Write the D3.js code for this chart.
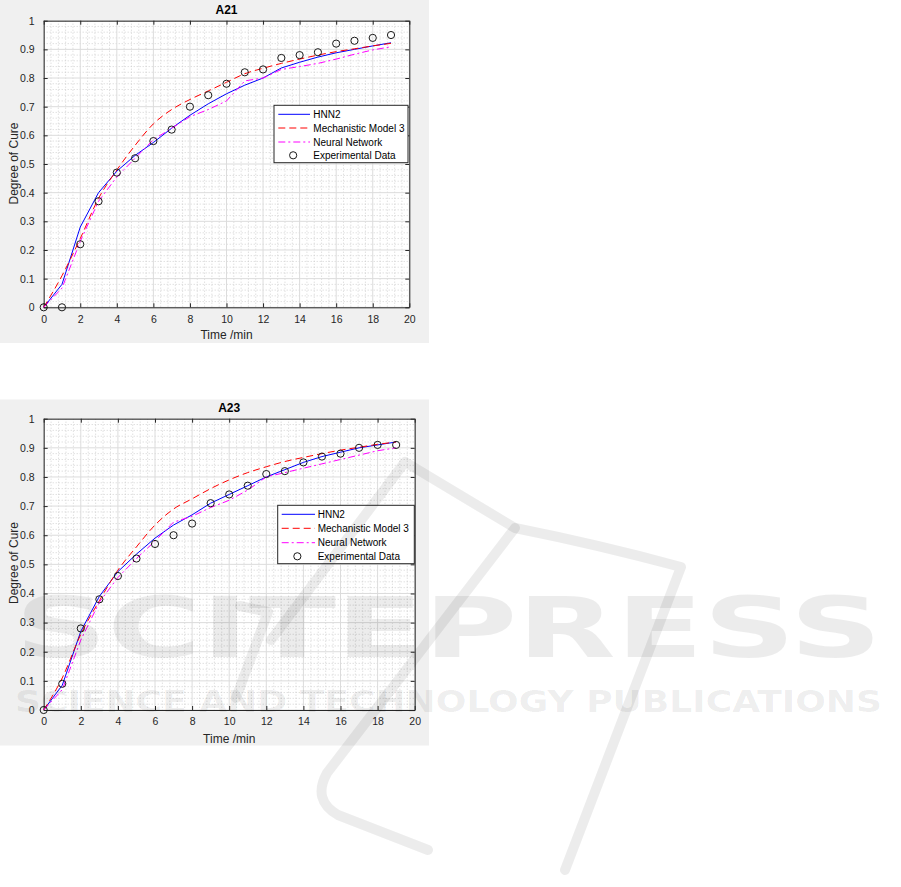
<!DOCTYPE html>
<html>
<head>
<meta charset="utf-8">
<script src="https://cdn.jsdelivr.net/npm/d3@7"></script>
<style>
  html, body { margin: 0; padding: 0; background: #ffffff; }
  svg { display: block; }
</style>
</head>
<body>
<svg id="chart" width="901" height="887"></svg>
<script>
// ---------------- DATA ----------------
const time = [0,1,2,3,4,5,6,7,8,9,10,11,12,13,14,15,16,17,18,19];

// A21
const exp21  = [0,0,0.22,0.37,0.47,0.52,0.58,0.62,0.70,0.74,0.78,0.82,0.83,0.87,0.88,0.89,0.92,0.93,0.94,0.95];
const hnn21  = [0,0.08,0.28,0.40,0.475,0.53,0.575,0.625,0.67,0.71,0.745,0.775,0.80,0.835,0.855,0.873,0.888,0.90,0.912,0.923];
const mech21 = [0,0.11,0.24,0.38,0.479,0.565,0.64,0.69,0.725,0.755,0.785,0.815,0.834,0.851,0.866,0.880,0.892,0.902,0.912,0.921];
const nn21   = [0,0.067,0.23,0.37,0.455,0.52,0.585,0.625,0.665,0.69,0.72,0.79,0.80,0.83,0.84,0.851,0.866,0.883,0.898,0.909];

// A23
const exp23  = [0,0.09,0.28,0.38,0.46,0.52,0.57,0.60,0.64,0.71,0.74,0.77,0.81,0.82,0.85,0.87,0.88,0.90,0.91,0.91];
const hnn23  = [0,0.085,0.27,0.39,0.475,0.535,0.59,0.635,0.67,0.71,0.74,0.77,0.80,0.825,0.85,0.87,0.885,0.90,0.91,0.92];
const mech23 = [0,0.11,0.26,0.375,0.48,0.56,0.635,0.69,0.725,0.76,0.79,0.815,0.835,0.853,0.867,0.88,0.892,0.902,0.912,0.92];
const nn23   = [0,0.07,0.24,0.37,0.455,0.52,0.58,0.645,0.665,0.695,0.72,0.755,0.80,0.815,0.83,0.845,0.86,0.875,0.89,0.90];

const xTicks = [0,2,4,6,8,10,12,14,16,18,20];
const yTicks = [0,0.1,0.2,0.3,0.4,0.5,0.6,0.7,0.8,0.9,1];
const yTickLabels = ["0","0.1","0.2","0.3","0.4","0.5","0.6","0.7","0.8","0.9","1"];
const seriesNames = ["HNN2","Mechanistic Model 3","Neural Network","Experimental Data"];
const titles = ["A21","A23"];
const xLabel = "Time /min";
const yLabel = "Degree of Cure";
const watermarkTitle = "SCITEPRESS";
const watermarkSub = "SCIENCE AND TECHNOLOGY PUBLICATIONS";

// ---------------- LAYOUT ----------------
const panels = [
  { title: titles[0], exp: exp21, hnn: hnn21, mech: mech21, nn: nn21,
    bg: {x:0, y:0, w:429, h:343},
    plot: {l:43.7, r:409.3, t:20.7, b:307.3},
    titleY: 10, xTickY: 320, xLabelY: 335, yLabelX: 13.5, yLabelY: 163.5,
    legend: {x:274, y:105.3, w:134, h:57.4, rowY:[114.3,128,142,155.3], lineX0:278.3, lineX1:310, textX:313.3} },
  { title: titles[1], exp: exp23, hnn: hnn23, mech: mech23, nn: nn23,
    bg: {x:0, y:399.5, w:429, h:346},
    plot: {l:43.7, r:414.7, t:418.7, b:710},
    titleY: 407.5, xTickY: 722.5, xLabelY: 739, yLabelX: 13.5, yLabelY: 563,
    legend: {x:277.7, y:505.3, w:136.6, h:58.4, rowY:[514.3,528.3,542.7,556.3], lineX0:281.7, lineX1:315, textX:317.7} }
];

const svg = d3.select("#chart");
const FONT = "'Liberation Sans', Arial, Helvetica, sans-serif";
const TXT = "#262626";

panels.forEach((p, pi) => {
  const g = svg.append("g");
  g.append("rect").attr("x", p.bg.x).attr("y", p.bg.y).attr("width", p.bg.w).attr("height", p.bg.h)
    .attr("fill", "#f0f0f0");

  const x = d3.scaleLinear().domain([0, 20]).range([p.plot.l, p.plot.r]);
  const y = d3.scaleLinear().domain([0, 1]).range([p.plot.b, p.plot.t]);

  g.append("rect").attr("x", p.plot.l).attr("y", p.plot.t)
    .attr("width", p.plot.r - p.plot.l).attr("height", p.plot.b - p.plot.t).attr("fill", "#ffffff");

  // minor grid
  const minorX = d3.range(0, 20.0001, 0.4).filter(v => Math.abs(v/2 - Math.round(v/2)) > 1e-6);
  const minorY = d3.range(0, 1.0001, 0.02).filter(v => Math.abs(v*10 - Math.round(v*10)) > 1e-6);
  const mg = g.append("g").attr("stroke", "#c8c8c8").attr("stroke-width", 0.8).attr("stroke-dasharray", "1,2");
  minorX.forEach(v => mg.append("line").attr("x1", x(v)).attr("x2", x(v)).attr("y1", p.plot.t).attr("y2", p.plot.b));
  minorY.forEach(v => mg.append("line").attr("y1", y(v)).attr("y2", y(v)).attr("x1", p.plot.l).attr("x2", p.plot.r));

  // major grid
  const gg = g.append("g").attr("stroke", "#dcdcdc").attr("stroke-width", 1);
  xTicks.forEach(v => gg.append("line").attr("x1", x(v)).attr("x2", x(v)).attr("y1", p.plot.t).attr("y2", p.plot.b));
  yTicks.forEach(v => gg.append("line").attr("y1", y(v)).attr("y2", y(v)).attr("x1", p.plot.l).attr("x2", p.plot.r));

  // axes with inward ticks (box on)
  const axB = d3.axisBottom(x).tickValues(xTicks).tickSizeInner(-4).tickSizeOuter(0).tickFormat(d => d3.format("d")(d)).tickPadding(8);
  const axT = d3.axisTop(x).tickValues(xTicks).tickSizeInner(-4).tickSizeOuter(0).tickFormat("");
  const axL = d3.axisLeft(y).tickValues(yTicks).tickSizeInner(-4).tickSizeOuter(0).tickFormat((d,i) => yTickLabels[i]).tickPadding(9);
  const axR = d3.axisRight(y).tickValues(yTicks).tickSizeInner(-4).tickSizeOuter(0).tickFormat("");

  const styleAxis = sel => {
    sel.selectAll("path").attr("stroke", TXT).attr("stroke-width", 1);
    sel.selectAll("line").attr("stroke", TXT).attr("stroke-width", 1);
    sel.selectAll("text").attr("fill", TXT).style("font-family", FONT).style("font-size", "10.5px");
  };
  g.append("g").attr("transform", `translate(0,${p.plot.b})`).call(axB).call(styleAxis);
  g.append("g").attr("transform", `translate(0,${p.plot.t})`).call(axT).call(styleAxis);
  g.append("g").attr("transform", `translate(${p.plot.l},0)`).call(axL).call(styleAxis);
  g.append("g").attr("transform", `translate(${p.plot.r},0)`).call(axR).call(styleAxis);

  // series
  const pts = arr => time.map((t, i) => [t, arr[i]]);
  const line = d3.line().x(d => x(d[0])).y(d => y(d[1]));
  const lineSmooth = d3.line().x(d => x(d[0])).y(d => y(d[1])).curve(d3.curveMonotoneX);

  g.append("path").datum(pts(p.hnn)).attr("d", line).attr("fill", "none")
    .attr("stroke", "#0000ff").attr("stroke-width", 1);
  g.append("path").datum(pts(p.mech)).attr("d", lineSmooth).attr("fill", "none")
    .attr("stroke", "#ff0000").attr("stroke-width", 1).attr("stroke-dasharray", "7,4");
  g.append("path").datum(pts(p.nn)).attr("d", line).attr("fill", "none")
    .attr("stroke", "#ff00ff").attr("stroke-width", 1).attr("stroke-dasharray", "7,3,2,3");
  g.append("g").selectAll("circle").data(pts(p.exp)).join("circle")
    .attr("cx", d => x(d[0])).attr("cy", d => y(d[1])).attr("r", 3.6)
    .attr("fill", "none").attr("stroke", "#1a1a1a").attr("stroke-width", 1);

  // legend
  const L = p.legend;
  const lg = g.append("g");
  lg.append("rect").attr("x", L.x).attr("y", L.y).attr("width", L.w).attr("height", L.h)
    .attr("fill", "#ffffff").attr("stroke", TXT).attr("stroke-width", 1);
  const styles = [
    {stroke:"#0000ff", dash:null},
    {stroke:"#ff0000", dash:"7,4"},
    {stroke:"#ff00ff", dash:"7,3,2,3"},
    null
  ];
  seriesNames.forEach((name, i) => {
    const ry = L.rowY[i];
    if (styles[i]) {
      lg.append("line").attr("x1", L.lineX0).attr("x2", L.lineX1).attr("y1", ry).attr("y2", ry)
        .attr("stroke", styles[i].stroke).attr("stroke-width", 1)
        .attr("stroke-dasharray", styles[i].dash);
    } else {
      lg.append("circle").attr("cx", (L.lineX0 + L.lineX1)/2 - 1).attr("cy", ry).attr("r", 3.6)
        .attr("fill", "none").attr("stroke", "#1a1a1a").attr("stroke-width", 1);
    }
    lg.append("text").attr("x", L.textX).attr("y", ry).attr("dy", "0.35em")
      .attr("fill", "#000").style("font-family", FONT).style("font-size", "10px").text(name);
  });

  // title and labels
  g.append("text").attr("x", (p.plot.l + p.plot.r)/2).attr("y", p.titleY).attr("dy", "0.35em")
    .attr("text-anchor", "middle").attr("fill", "#000").style("font-family", FONT)
    .style("font-size", "12px").style("font-weight", "bold").text(p.title);
  g.append("text").attr("x", (p.plot.l + p.plot.r)/2).attr("y", p.xLabelY).attr("dy", "0.35em")
    .attr("text-anchor", "middle").attr("fill", TXT).style("font-family", FONT)
    .style("font-size", "12px").text(xLabel);
  g.append("text").attr("transform", `translate(${p.yLabelX},${p.yLabelY}) rotate(-90)`).attr("dy", "0.35em")
    .attr("text-anchor", "middle").attr("fill", TXT).style("font-family", FONT)
    .style("font-size", "12px").text(yLabel);
});

// ---------------- WATERMARK ----------------
const wm = svg.append("g").attr("pointer-events", "none");
const wmFill = "rgba(0,0,0,0.075)";
const wmPaths = [
  "M 271 640 L 405 462 Q 460 495 515 528 Q 600 545 681 567 L 565 870",
  "M 515 528 L 327 773 Q 312 800 338 815 L 428 850",
  "M 240 606 L 268 612 L 236 698"
];
wmPaths.forEach(d => wm.append("path").attr("d", d).attr("fill", "none")
  .attr("stroke", wmFill).attr("stroke-width", 10).attr("stroke-linecap", "round").attr("stroke-linejoin", "round"));
wm.append("text").attr("x", 15).attr("y", 657).attr("textLength", 867).attr("lengthAdjust", "spacingAndGlyphs")
  .attr("fill", wmFill).style("font-family", "'DejaVu Sans', sans-serif").style("font-weight", "bold")
  .style("font-size", "84px").text(watermarkTitle);
wm.append("text").attr("x", 15).attr("y", 712).attr("textLength", 867).attr("lengthAdjust", "spacingAndGlyphs")
  .attr("fill", wmFill).style("font-family", "'DejaVu Sans', sans-serif").style("font-weight", "bold")
  .style("font-size", "30px").text(watermarkSub);
</script>
</body>
</html>
